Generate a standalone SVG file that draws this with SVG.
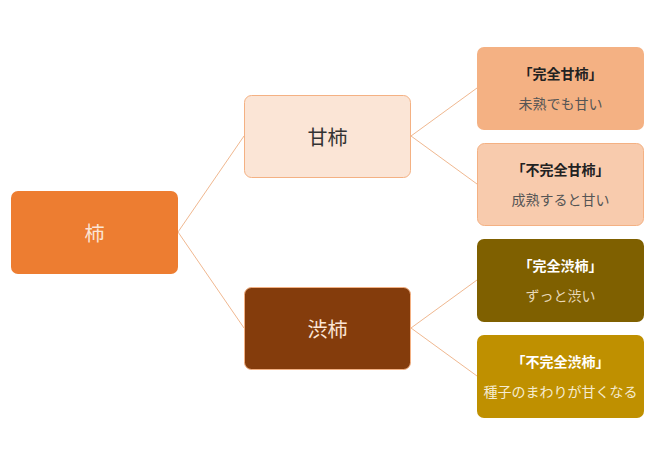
<svg xmlns="http://www.w3.org/2000/svg" width="660" height="466" viewBox="0 0 660 466">
<style>
text{font-family:"Noto Sans CJK JP","Noto Sans CJK SC",sans-serif;text-anchor:middle;dominant-baseline:central}
.big{font-size:20px}
.t{font-size:14px;font-weight:bold}
.s{font-size:14px}
.c{stroke:#F0B890;stroke-width:1;fill:none}
</style>
<rect width="660" height="466" fill="#fff"/>
<g id="connectors">
<path class="c" d="M178 232 L244 136 M178 232 L244 328 M411 136 L477 88 M411 136 L477 184 M411 328 L477 280 M411 328 L477 376"/>
</g>
<g id="kaki">
<rect x="11" y="191" width="167" height="83" rx="7" fill="#ED7D31"/>
<text class="big" x="94.5" y="232.5" fill="#FBE5D6">柿</text>
</g>
<g id="amagaki">
<rect x="244.5" y="95.5" width="166" height="82" rx="7" fill="#FBE5D6" stroke="#F4B183"/>
<text class="big" x="327.5" y="136.5" fill="#333">甘柿</text>
</g>
<g id="shibugaki">
<rect x="244.5" y="287.5" width="166" height="82" rx="7" fill="#843C0C" stroke="#F4B183"/>
<text class="big" x="327.5" y="328.5" fill="#FBE5D6">渋柿</text>
</g>
<g id="kanzen-amagaki">
<rect x="477" y="47" width="167" height="83" rx="7" fill="#F4B183"/>
<text class="t" x="560.5" y="73" fill="#222">「完全甘柿」</text>
<text class="s" x="560.5" y="103" fill="#555">未熟でも甘い</text>
</g>
<g id="fukanzen-amagaki">
<rect x="477.5" y="143.5" width="166" height="82" rx="7" fill="#F8CBAD" stroke="#F4B183"/>
<text class="t" x="560.5" y="169" fill="#222">「不完全甘柿」</text>
<text class="s" x="560.5" y="199" fill="#555">成熟すると甘い</text>
</g>
<g id="kanzen-shibugaki">
<rect x="477" y="239" width="167" height="83" rx="7" fill="#7F6000"/>
<text class="t" x="560.5" y="265" fill="#fff">「完全渋柿」</text>
<text class="s" x="560.5" y="295" fill="#E8D8B8">ずっと渋い</text>
</g>
<g id="fukanzen-shibugaki">
<rect x="477" y="335" width="167" height="83" rx="7" fill="#BF9000"/>
<text class="t" x="560.5" y="361" fill="#fff">「不完全渋柿」</text>
<text class="s" x="560.5" y="391" fill="#F5EBD0">種子のまわりが甘くなる</text>
</g>
</svg>
